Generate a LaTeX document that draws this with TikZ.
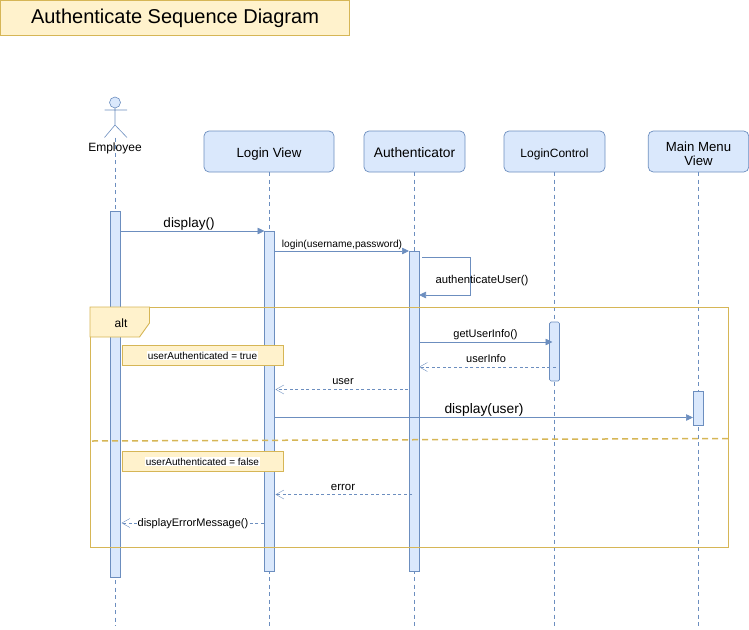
\documentclass[tikz,border=0pt]{standalone}
\usepackage{fontspec}
\setmainfont{Liberation Sans}
\usepackage{xcolor}
\usepackage{tikz}
\usetikzlibrary{arrows.meta,positioning,calc}
\definecolor{lineblue}{HTML}{6C8EBF}
\definecolor{fillblue}{HTML}{DAE8FC}
\definecolor{lineyellow}{HTML}{D6B656}
\definecolor{fillyellow}{HTML}{FFF2CC}
\newcommand{\guardtext}[1]{{\setlength{\fboxsep}{0.6pt}\colorbox{white}{#1}}}
\newcommand{\fs}[1]{\fontsize{#1pt}{#1pt}\selectfont}

\begin{document}
\begin{tikzpicture}[
  x=1pt, y=-1pt,
  every node/.style={font=\fs{11}, inner sep=0pt, outer sep=0pt},
  titlebox/.style={rectangle, draw=lineyellow, fill=fillyellow, line width=0.8pt,
                   minimum width=349pt, minimum height=35.5pt, font=\fs{20},
                   text height=16pt, text depth=4.6pt},
  objbox/.style={rectangle, rounded corners=5pt, draw=lineblue, fill=fillblue, line width=0.7pt,
                 minimum height=41pt, align=center},
  onerow/.style={objbox, text height=13pt, text depth=2pt},
  bar/.style={rectangle, draw=lineblue, fill=fillblue, line width=0.7pt, minimum width=10pt},
  roundbar/.style={bar, rounded corners=1.5pt},
  life/.style={draw=lineblue, line width=0.6pt, dash pattern=on 4pt off 3.5pt},
  msg/.style={draw=lineblue, line width=0.7pt, -{Triangle[length=7pt,width=6.5pt]}},
  reply/.style={draw=lineblue, line width=0.6pt, dash pattern=on 3pt off 2.5pt,
                -{Straight Barb[length=8pt,width=9pt,line width=0.4pt]}},
  guard/.style={rectangle, draw=lineyellow, fill=fillyellow, line width=0.7pt,
                minimum width=161pt, minimum height=20pt, font=\fs{10},
                text height=9pt, text depth=1pt},
  frameline/.style={draw=lineyellow, line width=0.9pt},
  lab/.style={anchor=base}
]
\useasboundingbox (0,0) rectangle (749,629);
\node[titlebox] (title) at (175,18) {Authenticate Sequence Diagram};

% objects
\node[circle, draw=lineblue, fill=fillblue, line width=0.6pt, minimum size=11pt] (head) at (115,102.5) {};
\coordinate (hip) at (115,125);
\coordinate (armL) at (104.5,110);
\coordinate (armR) at (127,110);
\coordinate (legL) at (104.5,137.5);
\coordinate (legR) at (127,137.5);
\node[lab, font=\fs{12}] (employee) at (115,151) {Employee};
\node[onerow, minimum width=130pt, font=\fs{13.3}] (login) at (269,151.5) {Login View};
\node[onerow, minimum width=101pt, font=\fs{13.8}] (auth) at (414.5,151.5) {Authenticator};
\node[onerow, minimum width=101pt, font=\fs{12}] (ctrl) at (554.5,151.5) {LoginControl};
\node[objbox, minimum width=100.5pt, font=\fs{13.2}] (menu) at (698.5,151.5) {\rule{0pt}{14.5pt}Main Menu\\[0.4pt]View};

\draw[draw=lineblue, line width=0.6pt] (head.south) -- (hip) -- (legL) (hip) -- (legR) (armL) -- (armR);

% lifelines
\coordinate (empEnd) at (115,626);
\draw[life] (hip |- legL) -- (empEnd);
\draw[life] (login.south) -- (login.south |- empEnd);
\draw[life] (auth.south) -- (auth.south |- empEnd);
\draw[life] (ctrl.south) -- (ctrl.south |- empEnd);
\draw[life] (menu.south) -- (menu.south |- empEnd);

% activation bars
\node[bar, minimum height=366pt] (empBar) at (115.5,394) {};
\node[bar, minimum height=340pt] (loginBar) at (269.5,401) {};
\node[bar, minimum height=320pt] (authBar) at (414,411) {};
\node[roundbar, minimum height=59pt] (ctrlBar) at (554.5,351.5) {};
\node[bar, minimum height=34pt] (menuBar) at (698,408) {};

% alt frame
\node[rectangle, frameline, minimum width=638pt, minimum height=240pt] (frame) at (409,427) {};
\coordinate (tabA) at (149.5,323);
\coordinate (tabB) at (139.5,337);
\draw[frameline, fill=fillyellow]
  (frame.north west) -- (frame.north west -| tabA) -- (tabA) -- (tabB) -- (tabB -| frame.west) -- cycle;
\node[lab, font=\fs{12}] (alt) at (121,327.3) {alt};
\coordinate (sepL) at (92,441);
\coordinate (sepR) at (731,438.5);
\draw[draw=lineyellow, line width=1.5pt, dash pattern=on 6pt off 4pt] (sepL) -- (sepR);
\node[guard] (guardT) at (202.5,355) {\guardtext{userAuthenticated = true}};
\node[guard] (guardF) at (202.5,461) {\guardtext{userAuthenticated = false}};

% messages
\draw[msg] ([yshift=-20pt]empBar.north east) -- (loginBar.north west);
\node[lab, font=\fs{13.5}] (lblDisplay) at (189,227.7) {display()};
\draw[msg] ([yshift=-20pt]loginBar.north east) -- (authBar.north west);
\node[lab, font=\fs{10.2}] (lblLogin) at (342,247) {login(username,password)};
\coordinate (selfA) at (470,257);
\coordinate (selfB) at (470,295);
\draw[msg] ([xshift=3pt,yshift=-6pt]authBar.north east) -- (selfA) -- (selfB) -- (selfB -| authBar.east);
\node[lab, font=\fs{11.3}] (lblAuth) at (482,283.3) {authenticateUser()};
\draw[msg] ([yshift=-91pt]authBar.north east) -- ([xshift=3pt,yshift=-20pt]ctrlBar.north west);
\node[lab] (lblGet) at (485.5,337.3) {getUserInfo()};
\draw[reply] ([xshift=-4pt,yshift=-45pt]ctrlBar.north east) -- ([yshift=-116pt]authBar.north east);
\node[lab] (lblInfo) at (486,362.3) {userInfo};
\draw[reply] ([xshift=-1pt,yshift=-138.5pt]authBar.north west) -- ([xshift=1pt,yshift=-158.5pt]loginBar.north east);
\node[lab] (lblUser) at (343,384) {user};
\draw[msg] ([yshift=-186.5pt]loginBar.north east) -- ([yshift=-26.5pt]menuBar.north west);
\node[lab, font=\fs{13.8}] (lblShow) at (484,413.3) {display(user)};
\draw[reply] ([xshift=3pt,yshift=-243.5pt]authBar.north west) -- ([xshift=1pt,yshift=-263.5pt]loginBar.north east);
\node[lab, font=\fs{11.5}] (lblError) at (343,490) {error};
\draw[reply] ([xshift=-1pt,yshift=-292pt]loginBar.north west) -- ([xshift=1pt,yshift=-312pt]empBar.north east);
\node[lab, fill=white, inner xsep=1pt, inner ysep=1pt, font=\fs{11}] (lblMessage) at (193,526.7) {displayErrorMessage()};
\end{tikzpicture}
\end{document}
